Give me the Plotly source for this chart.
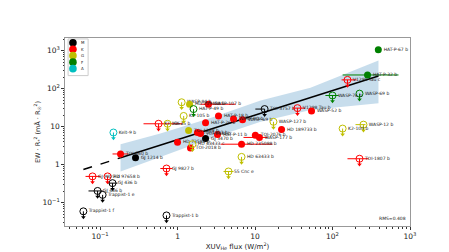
import plotly.graph_objects as go
import numpy as np

COLORS = {"M": "#000000", "K": "#ff0000", "G": "#bfbf00", "F": "#008000", "A": "#00bfbf"}
legend_labels = ["M", "K", "G", "F", "A"]

# ---- detections (filled) ----
det_names = ["HAT-P-67 b", "HAT-P-32 b", "WASP-52 b", "HD 189733 b", "WASP-107 b", "HD 209458 b",
             "HAT-P-18 b", "WASP-80 b", "WASP-69 b", "HAT-P-26 b", "TOI-1268 b", "TOI-1683 b",
             "TOI-1430 b", "GJ 3470 b", "HAT-P-11 b", "TOI-2076 b", "WASP-177 b", "HD 73583 b",
             "TOI-2018 b", "HD 235088 b", "TOI-560 b", "GJ 1214 b"]
det_type = ["F", "F", "K", "K", "K", "G", "K", "K", "K", "K", "G", "K", "K", "M", "K", "K", "K",
            "K", "K", "K", "K", "M"]
det_x = [390, 283, 53.6, 22.0, 2.51, 1.43, 3.38, 5.28, 6.90, 2.30, 1.39, 1.81, 1.98, 2.30, 3.28,
         10.1, 11.4, 1.00, 1.47, 6.7, 0.184, 0.287]
det_y = [1060, 229, 25.7, 8.4, 38.9, 38.9, 19.1, 16.0, 15.1, 12.7, 7.9, 7.0, 6.6, 4.9, 6.2, 5.9,
         5.2, 3.9, 2.73, 3.45, 1.91, 1.51]
det_xlo = [None, 135, None, None, 1.98, None, None, None, None, None, None, None, None, None, None,
           None, 7.1, None, None, 3.59, 0.145, None]
det_xhi = [None, 711, None, None, 5.6, None, None, None, None, None, None, None, None, None, None,
           None, 14.5, None, None, 16.8, 0.233, None]

# ---- upper limits (open with arrow) ----
ul_names = ["V1298 Tau c", "V1298 Tau b", "WASP-76 b", "WASP-69 b", "TOI-3757 b", "WASP-127 b",
            "K2-100 b", "WASP-12 b", "TOI-1807 b", "Kelt-9 b", "WASP-84 b", "HAT-P-49 b", "K2-105 b",
            "K2-136 c", "K2-25 b", "HD 63433 c", "HD 63433 b", "55 Cnc e", "GJ 9827 b", "GJ 9827 d",
            "HD 97658 b", "GJ 436 b", "GJ 486 b", "Trappist-1 e", "Trappist-1 f", "Trappist-1 b"]
ul_type = ["K", "K", "F", "F", "M", "G", "G", "G", "K", "A", "G", "F", "G", "K", "G", "G", "G", "G",
           "K", "K", "K", "M", "M", "M", "M", "M"]
ul_x = [156, 35.3, 100, 223, 13.3, 17.3, 135, 251, 223, 0.149, 1.13, 1.61, 1.20, 0.569, 0.743,
        1.56, 6.7, 4.55, 0.721, 0.080, 0.125, 0.145, 0.093, 0.108, 0.061, 0.721]
ul_y = [170, 30.7, 66, 74, 29, 13.4, 8.9, 11.3, 1.43, 7.0, 43.8, 29, 19.1, 11.9, 11.9, 3.45, 1.60,
        0.66, 0.79, 0.49, 0.49, 0.326, 0.203, 0.160, 0.059, 0.046]
ul_xlo = [131, 30.5, 81, None, 10.1, None, None, 198, 156, None, None, None, None, 0.364, None,
          None, None, 3.92, 0.60, 0.065, None, 0.129, 0.071, None, None, None]
ul_xhi = [204, 44.8, 120, None, 13.3, None, None, 267, 292, None, None, None, None, 1.16, None,
          None, None, 5.28, 0.86, 0.101, None, 0.168, 0.108, None, None, None]

# ---- fit and confidence band ----
fit_slope = 0.646
fit_logk = 0.656
fit_dash_x = [0.061, 0.184]
fit_solid_x = [0.184, 392]
band_x = [0.184, 0.60, 2.67, 11.8, 52, 392]
band_hi = [3.45, 6.6, 17.0, 49, 106, 554]
band_lo = [0.66, 1.60, 4.9, 13.4, 27.3, 41.2]
rms_text = "RMS=0.408"

fig = go.Figure()

fig.add_trace(go.Scatter(x=band_x + band_x[::-1], y=band_hi + band_lo[::-1], fill="toself",
                         fillcolor="rgba(31,119,180,0.25)", line=dict(width=0), mode="lines",
                         hoverinfo="skip", showlegend=False))

def fitline(xs, n=40):
    xx = np.logspace(np.log10(xs[0]), np.log10(xs[1]), n)
    return xx, 10 ** fit_logk * xx ** fit_slope

xx, yy = fitline(fit_dash_x)
fig.add_trace(go.Scatter(x=xx, y=yy, mode="lines", line=dict(color="black", width=1.5, dash="dash"),
                         showlegend=False))
xx, yy = fitline(fit_solid_x)
fig.add_trace(go.Scatter(x=xx, y=yy, mode="lines", line=dict(color="black", width=1.5),
                         showlegend=False))

lab_font = dict(family="DejaVu Sans", size=4.5, color="#222")
ARROW = 10 ** (-6 / 39)

def errx(x, lo, hi):
    plus = [(h - v) if h is not None else 0 for v, h in zip(x, hi)]
    minus = [(v - l) if l is not None else 0 for v, l in zip(x, lo)]
    return plus, minus

for T in legend_labels:
    c = COLORS[T]
    # upper limits
    idx = [i for i, t in enumerate(ul_type) if t == T]
    if idx:
        x = [ul_x[i] for i in idx]
        y = [ul_y[i] for i in idx]
        p, m = errx(x, [ul_xlo[i] for i in idx], [ul_xhi[i] for i in idx])
        fig.add_trace(go.Scatter(
            x=x, y=y, mode="markers+text", text=[ul_names[i] for i in idx],
            textposition="middle right", textfont=lab_font,
            marker=dict(symbol="circle-open", size=7, color=c, line=dict(width=1, color=c)),
            error_x=dict(type="data", symmetric=False, array=p, arrayminus=m, color=c,
                         thickness=1, width=0),
            error_y=dict(type="data", symmetric=False, array=[0] * len(y),
                         arrayminus=[v * (1 - ARROW) for v in y], color=c, thickness=1, width=0),
            showlegend=False))
        fig.add_trace(go.Scatter(
            x=x, y=[v * ARROW for v in y], mode="markers",
            marker=dict(symbol="triangle-down", size=4, color=c, line=dict(width=0)),
            showlegend=False))
    # detections
    idx = [i for i, t in enumerate(det_type) if t == T]
    if idx:
        x = [det_x[i] for i in idx]
        y = [det_y[i] for i in idx]
        p, m = errx(x, [det_xlo[i] for i in idx], [det_xhi[i] for i in idx])
        fig.add_trace(go.Scatter(
            x=x, y=y, mode="markers+text", text=[det_names[i] for i in idx],
            textposition="middle right", textfont=lab_font,
            marker=dict(symbol="circle", size=7, color=c, line=dict(width=0)),
            error_x=dict(type="data", symmetric=False, array=p, arrayminus=m, color=c,
                         thickness=1, width=0),
            showlegend=False))

# manual legend
shapes = [dict(type="rect", xref="paper", yref="paper", x0=0.009, x1=0.067, y0=0.80, y1=0.995,
               line=dict(color="#cccccc", width=1), fillcolor="white", layer="above")]
annotations = []
for k, T in enumerate(legend_labels):
    yp = 0.975 - k * 0.0345
    shapes.append(dict(type="circle", xref="paper", yref="paper", xsizemode="pixel",
                       ysizemode="pixel", xanchor=0.023, yanchor=yp, x0=-3.8, x1=3.8, y0=-3.8, y1=3.8,
                       fillcolor=COLORS[T], line=dict(width=0), layer="above"))
    annotations.append(dict(x=0.042, y=yp, xref="paper", yref="paper", text=T, showarrow=False,
                            xanchor="left", yanchor="middle",
                            font=dict(family="DejaVu Sans", size=4, color="#222")))
annotations.append(dict(x=0.995, y=0.015, xref="paper", yref="paper", text=rms_text,
                        showarrow=False, xanchor="right", yanchor="bottom",
                        font=dict(family="DejaVu Sans", size=4.5, color="#222")))

axis_common = dict(type="log", dtick=1, exponentformat="power", showgrid=False, zeroline=False,
                   ticks="outside", ticklen=3, tickcolor="#333", showline=True,
                   linecolor="#999", linewidth=1, mirror=True,
                   tickfont=dict(family="DejaVu Sans", size=6, color="#222"),
                   minor=dict(ticks="outside", ticklen=1.5, tickcolor="#333", dtick="D1"))

fig.update_layout(
    width=449, height=252, margin=dict(l=57, r=47, t=30, b=29),
    plot_bgcolor="white", paper_bgcolor="white", showlegend=False,
    font=dict(family="DejaVu Sans", color="#222"),
    xaxis=dict(axis_common, range=[-1.452, 3.0],
               title=dict(text="XUV<sub>He</sub> flux (W/m<sup>2</sup>)",
                          font=dict(size=7), standoff=2)),
    yaxis=dict(axis_common, range=[-1.615, 3.333],
               title=dict(text="EW · R<sub>*</sub><sup>2</sup> (mÅ · R<sub>☉</sub><sup>2</sup>)",
                          font=dict(size=6.5), standoff=1)),
    shapes=shapes, annotations=annotations,
)

fig.write_html("out.html")
